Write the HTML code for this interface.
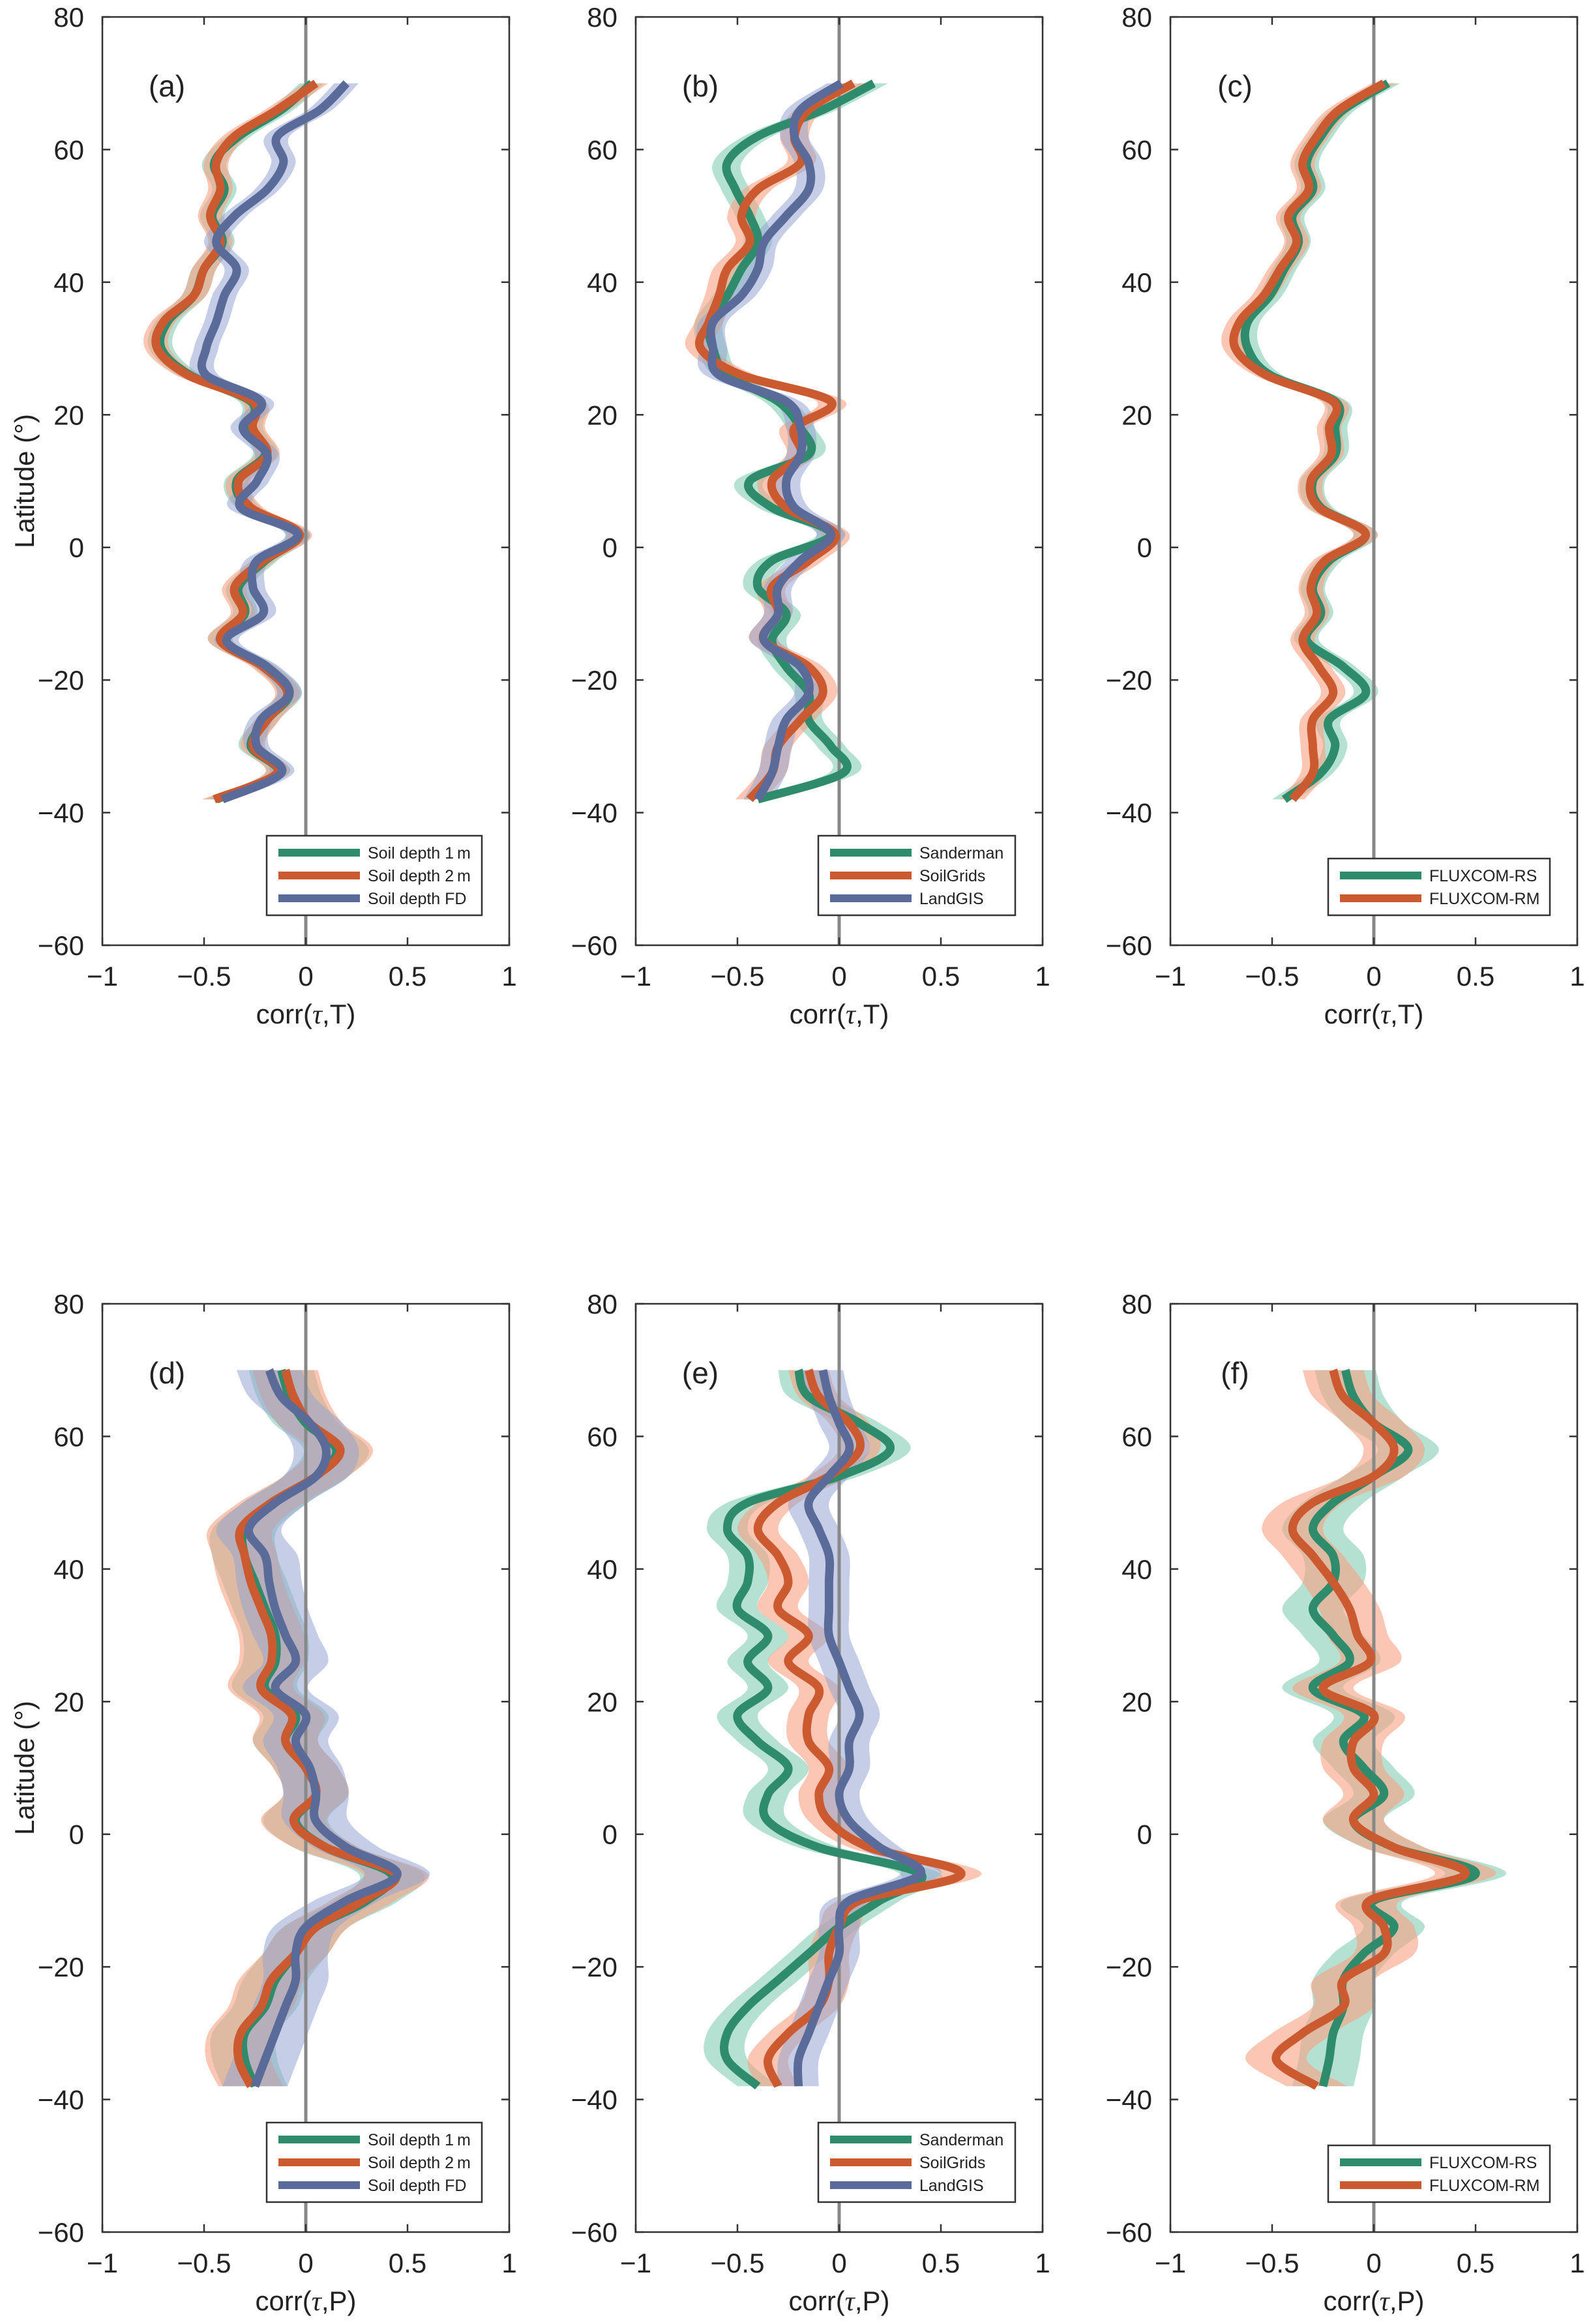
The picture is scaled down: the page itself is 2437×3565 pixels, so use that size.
<!DOCTYPE html>
<html><head><meta charset="utf-8"><style>
html,body{margin:0;padding:0;background:#fff}
svg{display:block}
text{font-family:"Liberation Sans",sans-serif;fill:#222}
</style></head><body>
<svg id="fig" width="2437" height="3565" viewBox="0 0 2437 3565" xmlns="http://www.w3.org/2000/svg"></svg>
<script>
const lats=[70,66,62,58,54,50,46,42,38,34,30,26,22,18,14,10,6,2,-2,-6,-10,-14,-18,-22,-26,-30,-34,-38];
const xTicks=[-1,-0.5,0,0.5,1];
const xTickLabels=["-1","-0.5","0","0.5","1"];
const yTicks=[80,60,40,20,0,-20,-40,-60];
const yTickLabels=["80","60","40","20","0","-20","-40","-60"];
// panel a
const aSoil1m=[0.03,-0.12,-0.33,-0.45,-0.4,-0.46,-0.41,-0.5,-0.55,-0.68,-0.71,-0.57,-0.27,-0.27,-0.2,-0.34,-0.28,-0.04,-0.2,-0.33,-0.3,-0.42,-0.2,-0.08,-0.19,-0.27,-0.14,-0.44];
const aSoil2m=[0.05,-0.14,-0.35,-0.44,-0.42,-0.47,-0.42,-0.5,-0.55,-0.7,-0.73,-0.58,-0.26,-0.26,-0.19,-0.33,-0.27,-0.03,-0.21,-0.35,-0.31,-0.42,-0.21,-0.09,-0.19,-0.26,-0.14,-0.45];
const aSoilFD=[0.2,0.07,-0.14,-0.11,-0.19,-0.35,-0.44,-0.34,-0.4,-0.44,-0.49,-0.49,-0.22,-0.31,-0.19,-0.24,-0.32,-0.04,-0.24,-0.26,-0.21,-0.39,-0.19,-0.08,-0.22,-0.24,-0.12,-0.41];
// panel b
const bSanderman=[0.17,-0.08,-0.4,-0.55,-0.51,-0.44,-0.4,-0.48,-0.55,-0.64,-0.62,-0.55,-0.3,-0.19,-0.15,-0.44,-0.33,-0.04,-0.33,-0.4,-0.26,-0.33,-0.26,-0.15,-0.15,-0.04,0.02,-0.4];
const bSoilGrids=[0.07,-0.15,-0.22,-0.19,-0.4,-0.48,-0.44,-0.55,-0.59,-0.64,-0.68,-0.48,-0.04,-0.22,-0.19,-0.33,-0.26,-0.02,-0.15,-0.33,-0.3,-0.37,-0.15,-0.08,-0.19,-0.3,-0.33,-0.44];
const bLandGIS=[0.01,-0.19,-0.22,-0.15,-0.15,-0.26,-0.37,-0.4,-0.48,-0.62,-0.62,-0.59,-0.26,-0.19,-0.19,-0.26,-0.22,-0.04,-0.19,-0.3,-0.3,-0.37,-0.19,-0.15,-0.26,-0.3,-0.33,-0.4];
// panel c
const cRS=[0.07,-0.15,-0.26,-0.33,-0.3,-0.4,-0.37,-0.44,-0.51,-0.62,-0.62,-0.51,-0.19,-0.19,-0.19,-0.3,-0.26,-0.04,-0.22,-0.3,-0.26,-0.33,-0.15,-0.04,-0.22,-0.19,-0.26,-0.44];
const cRM=[0.05,-0.17,-0.28,-0.35,-0.32,-0.42,-0.38,-0.46,-0.54,-0.66,-0.68,-0.53,-0.2,-0.22,-0.21,-0.31,-0.27,-0.04,-0.24,-0.31,-0.28,-0.35,-0.27,-0.2,-0.3,-0.3,-0.3,-0.4];
// panel d
const dSoil1m=[-0.12,-0.08,0.0,0.15,0.05,-0.15,-0.3,-0.3,-0.25,-0.2,-0.15,-0.15,-0.2,-0.05,-0.1,0.0,0.05,-0.05,0.1,0.42,0.3,0.05,-0.05,-0.15,-0.2,-0.3,-0.3,-0.25];
const dSoil2m=[-0.1,-0.06,0.02,0.17,0.05,-0.17,-0.32,-0.3,-0.27,-0.22,-0.17,-0.17,-0.22,-0.07,-0.1,0.0,0.05,-0.06,0.1,0.44,0.28,0.05,-0.05,-0.17,-0.22,-0.32,-0.33,-0.27];
const dSoilFD=[-0.18,-0.12,0.02,0.1,0.05,-0.15,-0.28,-0.2,-0.18,-0.15,-0.1,-0.05,-0.15,0.0,-0.05,0.02,0.05,0.05,0.2,0.45,0.2,0.0,-0.05,-0.05,-0.1,-0.15,-0.2,-0.25];
// panel e
const eSanderman=[-0.2,-0.15,0.1,0.25,0.0,-0.45,-0.55,-0.45,-0.45,-0.5,-0.35,-0.45,-0.35,-0.5,-0.4,-0.25,-0.35,-0.35,-0.1,0.4,0.2,0.0,-0.15,-0.3,-0.45,-0.55,-0.55,-0.4];
const eSoilGrids=[-0.15,-0.1,0.05,0.1,-0.05,-0.3,-0.4,-0.3,-0.25,-0.3,-0.15,-0.25,-0.1,-0.15,-0.15,-0.05,-0.1,-0.05,0.15,0.6,0.1,0.0,-0.05,-0.05,-0.1,-0.25,-0.35,-0.3];
const eLandGIS=[-0.08,-0.05,0.0,0.05,-0.05,-0.15,-0.1,-0.05,-0.05,-0.05,-0.05,0.0,0.05,0.1,0.05,0.05,0.0,0.05,0.2,0.4,0.05,0.0,0.0,-0.05,-0.1,-0.15,-0.2,-0.2];
// panel f
const fRS=[-0.14,-0.1,0.0,0.17,0.0,-0.2,-0.3,-0.2,-0.2,-0.3,-0.2,-0.12,-0.3,-0.05,-0.15,-0.05,0.05,-0.1,0.1,0.5,0.0,0.1,-0.05,-0.15,-0.15,-0.2,-0.22,-0.25];
const fRM=[-0.2,-0.15,0.0,0.1,0.0,-0.3,-0.4,-0.3,-0.2,-0.12,-0.08,-0.02,-0.25,0.0,-0.1,-0.1,0.0,-0.1,0.1,0.45,-0.02,0.05,0.05,-0.15,-0.15,-0.35,-0.48,-0.28];

const NS="http://www.w3.org/2000/svg";
const svg=document.getElementById('fig');
const COL={g:{line:'#2e8c6c',fill:'rgba(120,200,175,0.55)'},o:{line:'#cc5a30',fill:'rgba(248,160,128,0.6)'},b:{line:'#5a6a99',fill:'rgba(150,165,210,0.55)'}};
function el(tag,attrs,parent){const e=document.createElementNS(NS,tag);for(const k in attrs)e.setAttribute(k,attrs[k]);(parent||svg).appendChild(e);return e;}
function smooth(pts){let d='M'+pts[0][0].toFixed(1)+','+pts[0][1].toFixed(1);for(let i=0;i<pts.length-1;i++){const p0=pts[Math.max(0,i-1)],p1=pts[i],p2=pts[i+1],p3=pts[Math.min(pts.length-1,i+2)];const c1=[p1[0]+(p2[0]-p0[0])/6,p1[1]+(p2[1]-p0[1])/6],c2=[p2[0]-(p3[0]-p1[0])/6,p2[1]-(p3[1]-p1[1])/6];d+=' C'+c1[0].toFixed(1)+','+c1[1].toFixed(1)+' '+c2[0].toFixed(1)+','+c2[1].toFixed(1)+' '+p2[0].toFixed(1)+','+p2[1].toFixed(1);}return d;}
const panels=[
 {id:'a',x:157,y:26,xl:'T',bw:0.06,series:[['g',aSoil1m,'Soil depth 1\u2009m'],['o',aSoil2m,'Soil depth 2\u2009m'],['b',aSoilFD,'Soil depth FD']]},
 {id:'b',x:975,y:26,xl:'T',bw:0.07,series:[['g',bSanderman,'Sanderman'],['o',bSoilGrids,'SoilGrids'],['b',bLandGIS,'LandGIS']]},
 {id:'c',x:1795,y:26,xl:'T',bw:0.06,series:[['g',cRS,'FLUXCOM-RS'],['o',cRM,'FLUXCOM-RM']]},
 {id:'d',x:157,y:2000,xl:'P',bw:0.16,series:[['g',dSoil1m,'Soil depth 1\u2009m'],['o',dSoil2m,'Soil depth 2\u2009m'],['b',dSoilFD,'Soil depth FD']]},
 {id:'e',x:975,y:2000,xl:'P',bw:0.1,series:[['g',eSanderman,'Sanderman'],['o',eSoilGrids,'SoilGrids'],['b',eLandGIS,'LandGIS']]},
 {id:'f',x:1795,y:2000,xl:'P',bw:0.15,series:[['g',fRS,'FLUXCOM-RS'],['o',fRM,'FLUXCOM-RM']]}
];
const W=624,H=1424;
panels.forEach(p=>{
 const g=el('g',{});
 
 
 const sx=v=>p.x+(v+1)/2*W, sy=l=>p.y+(80-l)/140*H;
 p.series.forEach(s=>{
  const up=lats.map((l,i)=>[sx(s[1][i]+p.bw),sy(l)]), lo=lats.map((l,i)=>[sx(s[1][i]-p.bw),sy(l)]).reverse();
  const d=smooth(up)+' L'+lo[0][0].toFixed(1)+','+lo[0][1].toFixed(1)+smooth(lo).replace(/^M[^C]*/,' ')+' Z';
  const b=el('path',{d:d,fill:COL[s[0]].fill,stroke:'none'},g);
  
  
 });
 const z=el('line',{x1:sx(0),x2:sx(0),y1:p.y,y2:p.y+H,stroke:'#888',"stroke-width":5},g);
 
 
 p.series.forEach(s=>{
  const pts=lats.map((l,i)=>[sx(s[1][i]),sy(l)]);
  const ln=el('path',{d:smooth(pts),fill:'none',stroke:COL[s[0]].line,"stroke-width":13,"stroke-linejoin":'round',"stroke-linecap":'butt'},g);
  
  
 });
 const bx=el('rect',{x:p.x,y:p.y,width:W,height:H,fill:'none',stroke:'#333',"stroke-width":2.5},g);
 
 
 xTicks.forEach((t,i)=>{
  el('line',{x1:sx(t),x2:sx(t),y1:p.y+H,y2:p.y+H-12,stroke:'#333',"stroke-width":2.5},g);
  el('line',{x1:sx(t),x2:sx(t),y1:p.y,y2:p.y+12,stroke:'#333',"stroke-width":2.5},g);
  const tx=el('text',{x:sx(t),y:p.y+H+62,"font-size":42,"text-anchor":'middle'},g);
  tx.textContent=xTickLabels[i].replace('-','\u2212');
  
  
 });
 yTicks.forEach((t,i)=>{
  el('line',{x1:p.x,x2:p.x+12,y1:sy(t),y2:sy(t),stroke:'#333',"stroke-width":2.5},g);
  el('line',{x1:p.x+W,x2:p.x+W-12,y1:sy(t),y2:sy(t),stroke:'#333',"stroke-width":2.5},g);
  const tx=el('text',{x:p.x-28,y:sy(t)+15,"font-size":42,"text-anchor":'end'},g);
  tx.textContent=yTickLabels[i].replace('-','\u2212');
  
  
 });
 const xt=el('text',{x:p.x+W/2,y:p.y+H+120,"font-size":42,"text-anchor":'middle'},g);
 xt.innerHTML='corr(<tspan font-family="Liberation Serif" font-style="italic">\u03c4</tspan>,'+p.xl+')';
 
 
 const pl=el('text',{x:p.x+99,y:p.y+122,"font-size":46,"text-anchor":'middle'},g);
 pl.textContent='('+p.id+')';
 
 
 if(p.id==='a'||p.id==='d'){
  const yl=el('text',{x:0,y:0,"font-size":42,"text-anchor":'middle',transform:'translate(52,'+(p.y+712)+') rotate(-90)'},g);
  yl.textContent='Latitude (\u00b0)';
  
  
 }
 const n=p.series.length;
 const lw=(n===3)?(p.id==='a'||p.id==='d'?330:302):340;
 const lh=n*35+17;
 const lx=p.x+W-42-lw, ly=p.y+H-46-lh;
 const lg=el('g',{},g);
 
 
 el('rect',{x:lx,y:ly,width:lw,height:lh,fill:'#fff',stroke:'#333',"stroke-width":2.5},lg);
 p.series.forEach((s,i)=>{
  const yy=ly+26+i*35;
  const e=el('line',{x1:lx+18,x2:lx+143,y1:yy,y2:yy,stroke:COL[s[0]].line,"stroke-width":12},lg);
  
  
  const t=el('text',{x:lx+155,y:yy+9,"font-size":25},lg);
  t.textContent=s[2];
  
  
 });
});
</script>
</body></html>
